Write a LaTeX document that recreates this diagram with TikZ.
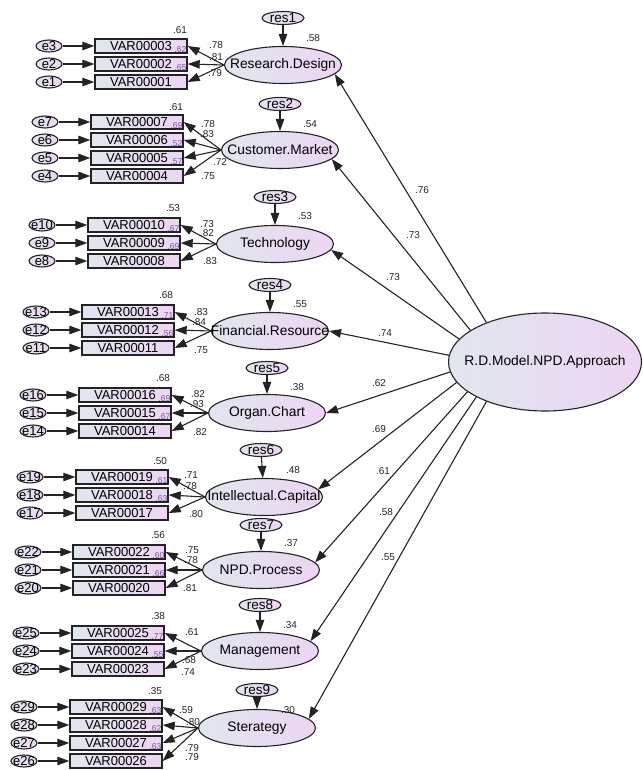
\documentclass[tikz,border=0pt]{standalone}
\usepackage{fontspec}
\setmainfont{Liberation Sans}
\usetikzlibrary{arrows.meta,shapes.geometric}

\definecolor{lblue}{RGB}{224,230,238}
\definecolor{lpink}{RGB}{237,213,243}
\definecolor{ink}{RGB}{35,35,35}
\definecolor{smc}{RGB}{115,85,160}

\begin{document}
\begin{tikzpicture}[x=1pt,y=-1pt,>={Triangle[length=12pt,width=8.5pt]}]

      \useasboundingbox (0,0) rectangle (642,770);

      % latent variables
      \begin{scope}[every node/.style={ellipse,draw=ink,line width=1.1pt,left color=lblue,right color=lpink,
          minimum width=117pt,minimum height=37pt,inner xsep=-40pt,inner ysep=0pt,font=\fontsize{13.8}{15}\selectfont}]
        \node (model)  at (545,362) [minimum width=193pt,minimum height=98pt] {R.D.Model.NPD.Approach};
        \node (design) at (283,65)  {Research.Design};
        \node (market) at (280,150) {Customer.Market};
        \node (tech)   at (275,244) {Technology};
        \node (fin)    at (270,331) {Financial.Resource};
        \node (org)    at (267,413) {Organ.Chart};
        \node (cap)    at (264,497) {Intellectual.Capital};
        \node (npd)    at (261,570) {NPD.Process};
        \node (mgmt)   at (260,651) {Management};
        \node (strat)  at (257,728) {Sterategy};
      \end{scope}

      % observed variables
      \begin{scope}[every node/.style={rectangle,draw=ink,line width=1.4pt,left color=lblue,right color=lpink,
          minimum width=92pt,minimum height=14pt,inner sep=1pt,font=\fontsize{13}{14}\selectfont}]
        \node (v3)  at (141,46)  {VAR00003};
        \node (v2)  at (141,64)  {VAR00002};
        \node (v1)  at (141,82)  {VAR00001};
        \node (v7)  at (137,122) {VAR00007};
        \node (v6)  at (137,140) {VAR00006};
        \node (v5)  at (137,158) {VAR00005};
        \node (v4)  at (137,176) {VAR00004};
        \node (v10) at (134,225) {VAR00010};
        \node (v9)  at (134,243) {VAR00009};
        \node (v8)  at (134,261) {VAR00008};
        \node (v13) at (128,312) {VAR00013};
        \node (v12) at (128,330) {VAR00012};
        \node (v11) at (128,348) {VAR00011};
        \node (v16) at (125,395) {VAR00016};
        \node (v15) at (125,413) {VAR00015};
        \node (v14) at (125,431) {VAR00014};
        \node (v19) at (122,477) {VAR00019};
        \node (v18) at (122,495) {VAR00018};
        \node (v17) at (122,513) {VAR00017};
        \node (v22) at (119,552) {VAR00022};
        \node (v21) at (119,570) {VAR00021};
        \node (v20) at (119,588) {VAR00020};
        \node (v25) at (118,633) {VAR00025};
        \node (v24) at (118,651) {VAR00024};
        \node (v23) at (118,669) {VAR00023};
        \node (v29) at (116,707) {VAR00029};
        \node (v28) at (116,725) {VAR00028};
        \node (v27) at (116,743) {VAR00027};
        \node (v26) at (116,761) {VAR00026};
      \end{scope}

      % error terms
      \begin{scope}[every node/.style={ellipse,draw=ink,line width=1.1pt,left color=lblue,right color=lpink,
          minimum width=26pt,minimum height=12pt,inner xsep=-3pt,inner ysep=-1pt,font=\fontsize{13}{14}\selectfont}]
        \node (e3)  at (49,46)  {e3};
        \node (e2)  at (49,64)  {e2};
        \node (e1)  at (49,82)  {e1};
        \node (e7)  at (45,122) {e7};
        \node (e6)  at (45,140) {e6};
        \node (e5)  at (45,158) {e5};
        \node (e4)  at (45,176) {e4};
        \node (e10) at (42,225) {e10};
        \node (e9)  at (42,243) {e9};
        \node (e8)  at (42,261) {e8};
        \node (e13) at (36,312) {e13};
        \node (e12) at (36,330) {e12};
        \node (e11) at (36,348) {e11};
        \node (e16) at (33,395) {e16};
        \node (e15) at (33,413) {e15};
        \node (e14) at (33,431) {e14};
        \node (e19) at (30,477) {e19};
        \node (e18) at (30,495) {e18};
        \node (e17) at (30,513) {e17};
        \node (e22) at (28,552) {e22};
        \node (e21) at (28,570) {e21};
        \node (e20) at (28,588) {e20};
        \node (e25) at (26,633) {e25};
        \node (e24) at (26,651) {e24};
        \node (e23) at (26,669) {e23};
        \node (e29) at (24,707) {e29};
        \node (e28) at (24,725) {e28};
        \node (e27) at (24,743) {e27};
        \node (e26) at (24,761) {e26};
      \end{scope}

      % residuals
      \begin{scope}[every node/.style={ellipse,draw=ink,line width=1.1pt,left color=lblue,right color=lpink,
          minimum width=42pt,minimum height=13pt,inner xsep=0pt,inner ysep=-1pt,font=\fontsize{13.5}{14}\selectfont}]
        \node (res1) at (283,18)  {res1};
        \node (res2) at (280,104) {res2};
        \node (res3) at (275,197) {res3};
        \node (res4) at (270,285) {res4};
        \node (res5) at (267,368) {res5};
        \node (res6) at (261,450) {res6};
        \node (res7) at (261,525) {res7};
        \node (res8) at (260,605) {res8};
        \node (res9) at (257,690) {res9};
      \end{scope}

      % small values inside the boxes
      \begin{scope}[every node/.style={anchor=south east,inner sep=1.2pt,text=smc,font=\fontsize{8.5}{9}\selectfont}]
        \node (q3)  at (v3.south east)  {.62};
        \node (q2)  at (v2.south east)  {.65};
        \node (q7)  at (v7.south east)  {.69};
        \node (q6)  at (v6.south east)  {.52};
        \node (q5)  at (v5.south east)  {.57};
        \node (q10) at (v10.south east) {.67};
        \node (q9)  at (v9.south east)  {.69};
        \node (q13) at (v13.south east) {.71};
        \node (q12) at (v12.south east) {.56};
        \node (q16) at (v16.south east) {.69};
        \node (q15) at (v15.south east) {.67};
        \node (q19) at (v19.south east) {.61};
        \node (q18) at (v18.south east) {.63};
        \node (q22) at (v22.south east) {.60};
        \node (q21) at (v21.south east) {.66};
        \node (q25) at (v25.south east) {.77};
        \node (q24) at (v24.south east) {.55};
        \node (q29) at (v29.south east) {.63};
        \node (q28) at (v28.south east) {.62};
        \node (q27) at (v27.south east) {.63};
      \end{scope}

      % estimates
      \begin{scope}[every node/.style={inner sep=0pt,text=ink,font=\fontsize{10}{11}\selectfont}]
        \node (s1) at (180,30)  {.61};
        \node (s2) at (176,107) {.61};
        \node (s3) at (173,208) {.53};
        \node (s4) at (166,295) {.68};
        \node (s5) at (163,378) {.68};
        \node (s6) at (160,461) {.50};
        \node (s7) at (158,535) {.56};
        \node (s8) at (158,616) {.38};
        \node (s9) at (155,691) {.35};

        \node (t1) at (313,38)  {.58};
        \node (t2) at (310,124) {.54};
        \node (t3) at (305,216) {.53};
        \node (t4) at (300,304) {.55};
        \node (t5) at (297,387) {.38};
        \node (t6) at (293,470) {.48};
        \node (t7) at (291,543) {.37};
        \node (t8) at (290,625) {.34};
        \node (t9) at (288,710) {.30};

        \node (a3)  at (216,45)  {.78};
        \node (a2)  at (216,57)  {.81};
        \node (a1)  at (215,73)  {.79};
        \node (a7)  at (208,124) {.78};
        \node (a6)  at (207,134) {.83};
        \node (a5)  at (220,162) {.72};
        \node (a4)  at (208,176) {.75};
        \node (a10) at (207,224) {.73};
        \node (a9)  at (207,233) {.82};
        \node (a8)  at (210,261) {.83};
        \node (a13) at (201,312) {.83};
        \node (a12) at (199,322) {.84};
        \node (a11) at (201,350) {.75};
        \node (a16) at (198,394) {.82};
        \node (a15) at (197,404) {.93};
        \node (a14) at (200,432) {.82};
        \node (a19) at (191,475) {.71};
        \node (a18) at (190,486) {.78};
        \node (a17) at (196,514) {.80};
        \node (a22) at (192,550) {.75};
        \node (a21) at (191,560) {.78};
        \node (a20) at (190,588) {.81};
        \node (a25) at (192,632) {.61};
        \node (a24) at (189,660) {.68};
        \node (a23) at (188,672) {.74};
        \node (a29) at (186,710) {.59};
        \node (a28) at (193,722) {.80};
        \node (a27) at (192,748) {.79};
        \node (a26) at (192,757) {.79};

        \node (b1) at (422,190) {.76};
        \node (b2) at (413,235) {.73};
        \node (b3) at (393,277) {.73};
        \node (b4) at (385,333) {.74};
        \node (b5) at (379,383) {.62};
        \node (b6) at (379,429) {.69};
        \node (b7) at (383,471) {.61};
        \node (b8) at (386,512) {.58};
        \node (b9) at (388,557) {.55};
      \end{scope}

      % paths
      \begin{scope}[every edge/.style={draw=ink,line width=1.1pt,->}]
        \path (model.146) edge (design.350);
        \path (model.157) edge (market.350);
        \path (model.165) edge (tech.354);
        \path (model.176) edge (fin.east);
        \path (model.186) edge (org.east);
        \path (model.193) edge (cap.8);
        \path (model.201) edge (npd.8);
        \path (model.207) edge (mgmt.11);
        \path (model.214) edge (strat.10);

        \path (res1) edge (design);
        \path (res2) edge (market);
        \path (res3) edge (tech);
        \path (res4) edge (fin);
        \path (res5) edge (org);
        \path (res6) edge (cap);
        \path (res7) edge (npd);
        \path (res8) edge (mgmt);
        \path (res9) edge (strat);

        \path (design.west) edge (v3.east);
        \path (design.west) edge (v2.east);
        \path (design.west) edge (v1.east);
        \path (market.west) edge (v7.east);
        \path (market.west) edge (v6.east);
        \path (market.west) edge (v5.east);
        \path (market.west) edge (v4.east);
        \path (tech.west) edge (v10.east);
        \path (tech.west) edge (v9.east);
        \path (tech.west) edge (v8.east);
        \path (fin.west) edge (v13.east);
        \path (fin.west) edge (v12.east);
        \path (fin.west) edge (v11.east);
        \path (org.west) edge (v16.east);
        \path (org.west) edge (v15.east);
        \path (org.west) edge (v14.east);
        \path (cap.west) edge (v19.east);
        \path (cap.west) edge (v18.east);
        \path (cap.west) edge (v17.east);
        \path (npd.west) edge (v22.east);
        \path (npd.west) edge (v21.east);
        \path (npd.west) edge (v20.east);
        \path (mgmt.west) edge (v25.east);
        \path (mgmt.west) edge (v24.east);
        \path (mgmt.west) edge (v23.east);
        \path (strat.west) edge (v29.east);
        \path (strat.west) edge (v28.east);
        \path (strat.west) edge (v27.east);
        \path (strat.west) edge (v26.east);

        \path (e3) edge (v3);
        \path (e2) edge (v2);
        \path (e1) edge (v1);
        \path (e7) edge (v7);
        \path (e6) edge (v6);
        \path (e5) edge (v5);
        \path (e4) edge (v4);
        \path (e10) edge (v10);
        \path (e9) edge (v9);
        \path (e8) edge (v8);
        \path (e13) edge (v13);
        \path (e12) edge (v12);
        \path (e11) edge (v11);
        \path (e16) edge (v16);
        \path (e15) edge (v15);
        \path (e14) edge (v14);
        \path (e19) edge (v19);
        \path (e18) edge (v18);
        \path (e17) edge (v17);
        \path (e22) edge (v22);
        \path (e21) edge (v21);
        \path (e20) edge (v20);
        \path (e25) edge (v25);
        \path (e24) edge (v24);
        \path (e23) edge (v23);
        \path (e29) edge (v29);
        \path (e28) edge (v28);
        \path (e27) edge (v27);
        \path (e26) edge (v26);
      \end{scope}

    \end{tikzpicture}
\end{document}
